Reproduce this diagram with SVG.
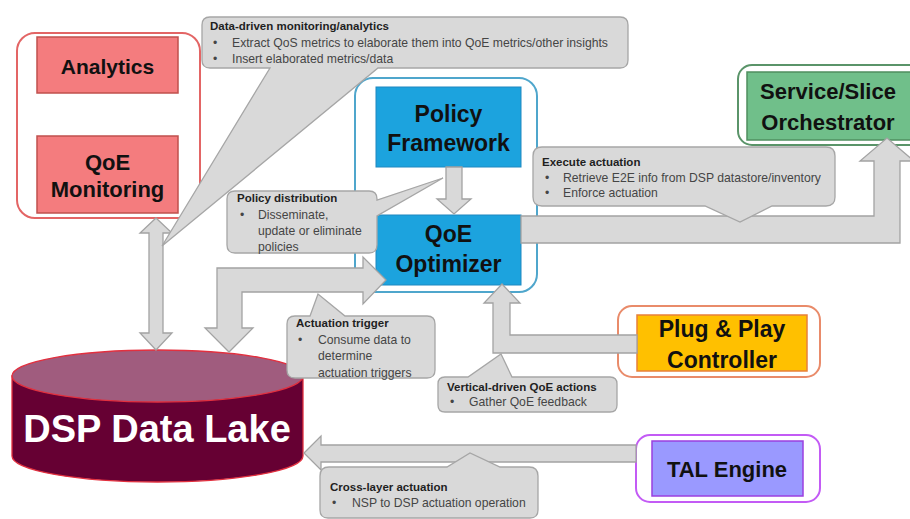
<svg xmlns="http://www.w3.org/2000/svg" width="910" height="519" viewBox="0 0 910 519">
  <style>
    .frame { fill: #ffffff; stroke-width: 2; }
    .lbl { font-family: "Liberation Sans", Arial, sans-serif; font-weight: bold; fill: #111111; text-anchor: middle; }
    .arrow { fill: #D9D9D9; stroke: #A3A3A3; stroke-width: 1.3; stroke-linejoin: miter; }
    .note { fill: #D9D9D9; stroke: #A6A6A6; stroke-width: 1.3; }
    .nt { font-family: "Liberation Sans", Arial, sans-serif; font-size: 11.5px; font-weight: bold; fill: #1f1f1f; }
    .nb { font-family: "Liberation Sans", Arial, sans-serif; font-size: 12.2px; fill: #454545; }
  </style>

  <rect width="910" height="519" fill="#ffffff"/>

  <!-- Monitoring & analytics block -->
  <g id="monitoring-group">
    <rect class="frame" x="17" y="33" width="183" height="185" rx="18" stroke="#E36565"/>
    <g id="analytics">
      <rect x="37" y="37" width="141" height="56" fill="#F47C7E" stroke="#C0504D" stroke-width="1.5"/>
      <text class="lbl" x="107.5" y="74" font-size="21">Analytics</text>
    </g>
    <g id="qoe-monitoring">
      <rect x="37" y="136" width="141" height="77" fill="#F47C7E" stroke="#C0504D" stroke-width="1.5"/>
      <text class="lbl" x="107.5" y="170" font-size="22">QoE</text>
      <text class="lbl" x="107.5" y="197" font-size="22">Monitoring</text>
    </g>
  </g>

  <!-- Policy & optimisation block -->
  <g id="optimizer-group">
    <rect class="frame" x="355" y="78" width="182" height="214" rx="18" stroke="#4FA6CC" stroke-width="1.6"/>
    <g id="policy-framework">
      <rect x="376" y="87" width="145" height="80" fill="#1CA3DE" stroke="#1E88C0" stroke-width="1"/>
      <text class="lbl" x="448.5" y="122" font-size="23">Policy</text>
      <text class="lbl" x="448.5" y="151" font-size="23">Framework</text>
    </g>
    <g id="qoe-optimizer">
      <rect x="376" y="215" width="145" height="70" fill="#1CA3DE" stroke="#1E88C0" stroke-width="1"/>
      <text class="lbl" x="448.5" y="242" font-size="23">QoE</text>
      <text class="lbl" x="448.5" y="272" font-size="23">Optimizer</text>
    </g>
  </g>

  <g id="orchestrator">
    <rect class="frame" x="738" y="65" width="190" height="80" rx="14" stroke="#5A9469"/>
    <rect x="747" y="72" width="175" height="68" fill="#70BF8A" stroke="#4F8F5F" stroke-width="1.5"/>
    <text class="lbl" x="828" y="99" font-size="22">Service/Slice</text>
    <text class="lbl" x="828" y="130" font-size="22">Orchestrator</text>
  </g>

  <g id="pnp-controller">
    <rect class="frame" x="618" y="306" width="202" height="71" rx="14" stroke="#E98B6A"/>
    <rect x="637" y="315" width="170" height="56" fill="#FFC000" stroke="#E8803A" stroke-width="1.5"/>
    <text class="lbl" x="722" y="337" font-size="23">Plug &amp; Play</text>
    <text class="lbl" x="722" y="368" font-size="23">Controller</text>
  </g>

  <g id="tal-engine">
    <rect class="frame" x="636" y="435" width="184" height="67" rx="14" stroke="#C35BF5"/>
    <rect x="652" y="441" width="151" height="55" fill="#9A99FF" stroke="#9B3FE0" stroke-width="1.5"/>
    <text class="lbl" x="727" y="477" font-size="22">TAL Engine</text>
  </g>

  <g id="data-lake">
    <path d="M12,376 V456 A145.5,26 0 0 0 303,456 V376 Z" fill="#660033" stroke="#E2303F" stroke-width="1.3"/>
    <ellipse cx="157.5" cy="376" rx="145.5" ry="26" fill="#A05C7E" stroke="#E2303F" stroke-width="1.3"/>
    <text x="157" y="442" font-family="Liberation Sans, Arial, sans-serif" font-weight="bold" font-size="38" fill="#ffffff" text-anchor="middle">DSP Data Lake</text>
  </g>

  <!-- Block arrows -->
  <g id="connectors">
    <!-- monitoring <-> data lake -->
    <polygon class="arrow" points="156,218 172,233 163,233 163,333 172,333 156,350 140,333 149,333 149,233 140,233"/>
    <!-- policy framework -> optimizer -->
    <polygon class="arrow" points="446,167 462,167 462,199 471,199 454,214 437,199 446,199"/>
    <!-- data lake <-> optimizer -->
    <polygon class="arrow" points="217,268 363,268 363,257 386,280 363,304 363,292 242,292 242,328 253,328 229,352 205,328 217,328"/>
    <!-- optimizer -> orchestrator -->
    <polygon class="arrow" points="521,216 874,216 874,161 860,161 887,138 914,161 900,161 900,243 521,243"/>
    <!-- plug & play -> optimizer -->
    <polygon class="arrow" points="637,335 510,335 510,303 520,303 502,284 484,303 493,303 493,353 637,353"/>
    <!-- TAL engine -> data lake -->
    <polygon class="arrow" points="636,445 321,445 321,436 304,453 321,470 321,462 636,462"/>
  </g>

  <!-- Callout annotations -->
  <g id="note-data-driven">
    <path class="note" d="M210,17 H620 Q628,17 628,25 V60 Q628,68 620,68 H378 L162,246 L270,68 H210 Q202,68 202,60 V25 Q202,17 210,17 Z"/>
    <text class="nt" x="210" y="30">Data-driven monitoring/analytics</text>
    <text class="nb" x="213" y="47">•</text>
    <text class="nb" x="232" y="47">Extract QoS metrics to elaborate them into QoE metrics/other insights</text>
    <text class="nb" x="213" y="63">•</text>
    <text class="nb" x="232" y="63">Insert elaborated metrics/data</text>
  </g>

  <g id="note-policy">
    <path class="note" d="M235,191 H369 Q377,191 377,199 V200 L443,178 L377,216 V245 Q377,253 369,253 H235 Q227,253 227,245 V199 Q227,191 235,191 Z"/>
    <text class="nt" x="237" y="202">Policy distribution</text>
    <text class="nb" x="240" y="219">•</text>
    <text class="nb" x="258" y="219">Disseminate,</text>
    <text class="nb" x="258" y="235">update or eliminate</text>
    <text class="nb" x="258" y="251">policies</text>
  </g>

  <g id="note-execute">
    <path class="note" d="M542,147 H826 Q835,147 835,156 V197 Q835,206 826,206 H772 L740,222 L705,206 H542 Q533,206 533,197 V156 Q533,147 542,147 Z"/>
    <text class="nt" x="542" y="166">Execute actuation</text>
    <text class="nb" x="545" y="182">•</text>
    <text class="nb" x="563" y="182">Retrieve E2E info from DSP datastore/inventory</text>
    <text class="nb" x="545" y="197">•</text>
    <text class="nb" x="563" y="197">Enforce actuation</text>
  </g>

  <g id="note-trigger">
    <path class="note" d="M295,316 H310 L318,294 L345,316 H427 Q435,316 435,324 V370 Q435,378 427,378 H295 Q287,378 287,370 V324 Q287,316 295,316 Z"/>
    <text class="nt" x="296" y="327">Actuation trigger</text>
    <text class="nb" x="298" y="344">•</text>
    <text class="nb" x="318" y="344">Consume data to</text>
    <text class="nb" x="318" y="360">determine</text>
    <text class="nb" x="318" y="377">actuation triggers</text>
  </g>

  <g id="note-vertical">
    <path class="note" d="M445,377 H468 L501,354 L512,377 H610 Q617,377 617,384 V405 Q617,412 610,412 H445 Q438,412 438,405 V384 Q438,377 445,377 Z"/>
    <text class="nt" x="447" y="391">Vertical-driven QoE actions</text>
    <text class="nb" x="450" y="406">•</text>
    <text class="nb" x="469" y="406">Gather QoE feedback</text>
  </g>

  <g id="note-cross-layer">
    <path class="note" d="M329,467 H447 L470,453 L500,467 H529 Q538,467 538,476 V510 Q538,518 530,518 H328 Q320,518 320,510 V476 Q320,467 329,467 Z"/>
    <text class="nt" x="330" y="491">Cross-layer actuation</text>
    <text class="nb" x="332" y="507">•</text>
    <text class="nb" x="352" y="507">NSP to DSP actuation operation</text>
  </g>
</svg>
